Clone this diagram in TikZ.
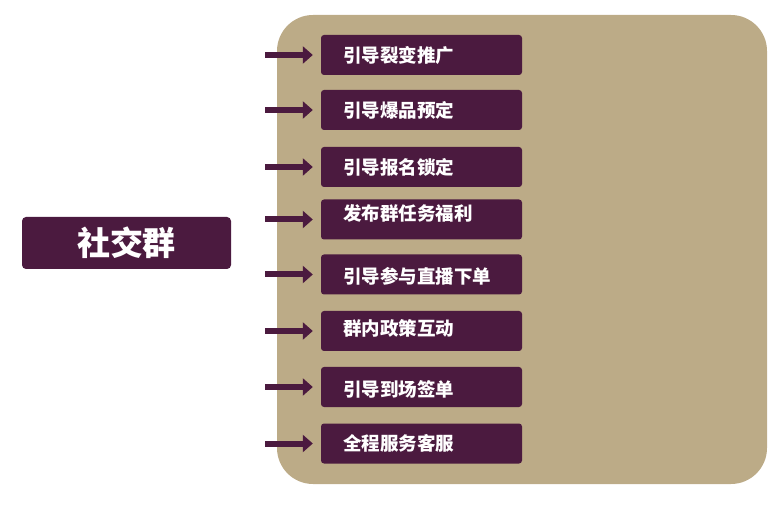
\documentclass[tikz,border=0pt]{standalone}
\usepackage{fontspec}
\newfontfamily\cjk{Noto Sans CJK SC}
\usetikzlibrary{arrows.meta}
\definecolor{plum}{HTML}{4B1A3F}
\definecolor{tan}{HTML}{BCAB87}
\tikzset{
  item/.style={fill=plum, rounded corners=3pt, minimum width=201pt, minimum height=40pt, inner sep=0pt},
  itemtext/.style={text=white, font=\cjk\bfseries\fontsize{18.5}{21}\selectfont, anchor=west, inner sep=0pt},
  feed/.style={draw=plum, line width=6pt, -{Triangle[length=10pt,width=17pt]}}
}
\begin{document}
\begin{tikzpicture}[x=1pt,y=-1pt]
\useasboundingbox (0,0) rectangle (780,505);
\fill[tan, rounded corners=36pt] (277,15) rectangle (767,484);
\node[fill=plum, rounded corners=4pt, minimum width=209pt, minimum height=52pt, inner sep=0pt] (soc) at (126.5,243) {};
\node[text=white, font=\cjk\bfseries\fontsize{33}{36}\selectfont, inner sep=0pt] (soct) at (126.5,243) {社交群};
\foreach \i/\y/\ty/\t in {1/55/55/引导裂变推广, 2/110/110/引导爆品预定, 3/167/167/引导报名锁定, 4/219.5/213/发布群任务福利, 5/274.5/276/引导参与直播下单, 6/331/328/群内政策互动, 7/387/389/引导到场签单, 8/443.5/443.5/全程服务客服}{
  \node[item] (b\i) at (421.5,\y) {};
  \node[itemtext] (t\i) at (343,\ty) {\t};
  \coordinate (s\i) at (265,\y);
  \draw[feed] (s\i) -- ([xshift=-8pt]b\i.west);
}
\end{tikzpicture}
\end{document}
